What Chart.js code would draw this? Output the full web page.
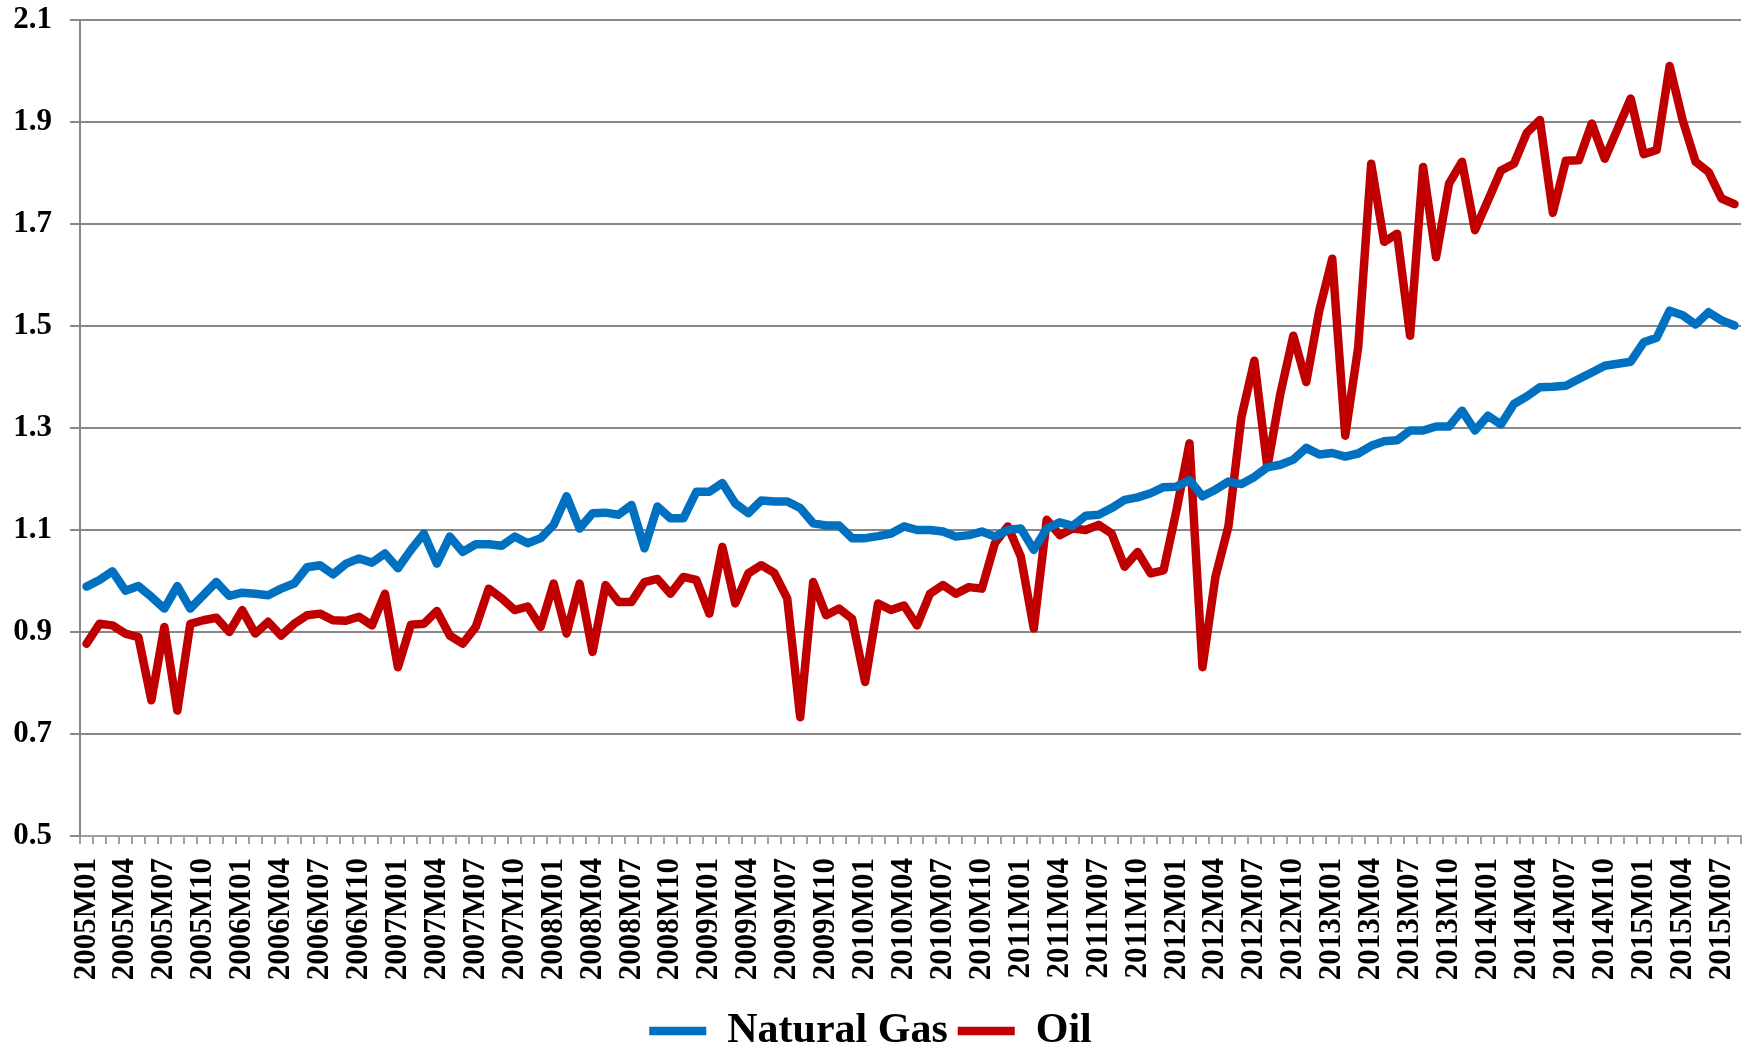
<!DOCTYPE html>
<html>
<head>
<meta charset="utf-8">
<script src="https://cdn.jsdelivr.net/npm/chart.js@4.4.0/dist/chart.umd.min.js"></script>
<style>
  html, body { margin: 0; padding: 0; background: #fff; }
  #wrap { width: 1752px; height: 1048px; }
</style>
</head>
<body>
<div id="wrap"><canvas id="myChart" width="1752" height="1048"></canvas></div>
<script>
// monthly categories 2005M01 .. 2015M08
const years = [2005, 2006, 2007, 2008, 2009, 2010, 2011, 2012, 2013, 2014, 2015];
const lastMonth = 8;
const labels = [];
years.forEach(function (y) {
    const n = (y === 2015) ? lastMonth : 12;
    for (let m = 1; m <= n; m++) {
        labels.push(y + 'M' + (m < 10 ? '0' + m : m));
    }
});

const gas = [
    0.989, 1.002, 1.019, 0.981, 0.990, 0.969, 0.946, 0.990, 0.946, 0.972, 0.998, 0.971,
    0.977, 0.975, 0.972, 0.985, 0.995, 1.027, 1.031, 1.013, 1.034, 1.044, 1.036, 1.054,
    1.025, 1.061, 1.093, 1.034, 1.087, 1.057, 1.072, 1.072, 1.069, 1.087, 1.074, 1.084,
    1.110, 1.166, 1.103, 1.133, 1.134, 1.130, 1.149, 1.064, 1.146, 1.123, 1.123, 1.175,
    1.175, 1.192, 1.152, 1.133, 1.158, 1.156, 1.156, 1.143, 1.113, 1.109, 1.109, 1.084,
    1.084, 1.088, 1.093, 1.107, 1.100, 1.100, 1.097, 1.087, 1.090, 1.097, 1.087, 1.100,
    1.103, 1.061, 1.103, 1.115, 1.108, 1.128, 1.130, 1.143, 1.159, 1.164, 1.172, 1.184,
    1.185, 1.198, 1.166, 1.179, 1.195, 1.190, 1.204, 1.223, 1.228, 1.238, 1.261, 1.248,
    1.251, 1.244, 1.250, 1.265, 1.274, 1.276, 1.295, 1.295, 1.303, 1.303, 1.334, 1.295,
    1.324, 1.307, 1.347, 1.362, 1.380, 1.381, 1.383, 1.396, 1.409, 1.422, 1.426, 1.430,
    1.468, 1.477, 1.530, 1.521, 1.503, 1.527, 1.511, 1.501
];

const oil = [
    0.877, 0.916, 0.913, 0.897, 0.890, 0.766, 0.910, 0.746, 0.916, 0.923, 0.928, 0.900,
    0.943, 0.897, 0.920, 0.893, 0.916, 0.933, 0.936, 0.923, 0.922, 0.930, 0.913, 0.975,
    0.831, 0.914, 0.916, 0.941, 0.893, 0.877, 0.910, 0.985, 0.966, 0.943, 0.950, 0.910,
    0.995, 0.897, 0.995, 0.861, 0.992, 0.959, 0.959, 0.998, 1.004, 0.975, 1.008, 1.002,
    0.936, 1.067, 0.956, 1.015, 1.031, 1.016, 0.966, 0.733, 0.998, 0.933, 0.946, 0.926,
    0.802, 0.956, 0.943, 0.952, 0.913, 0.975, 0.992, 0.975, 0.988, 0.985, 1.074, 1.107,
    1.048, 0.907, 1.120, 1.090, 1.103, 1.100, 1.110, 1.093, 1.028, 1.057, 1.015, 1.021,
    1.139, 1.270, 0.831, 1.008, 1.107, 1.321, 1.432, 1.223, 1.367, 1.481, 1.390, 1.530,
    1.632, 1.285, 1.458, 1.818, 1.665, 1.681, 1.481, 1.812, 1.635, 1.779, 1.822, 1.688,
    1.746, 1.805, 1.818, 1.879, 1.904, 1.722, 1.824, 1.825, 1.897, 1.828, 1.887, 1.946,
    1.837, 1.845, 2.010, 1.904, 1.822, 1.802, 1.750, 1.739
];

const yMin = 0.5;
const yMax = 2.1;
const yStep = 0.2;

const serif = '"Liberation Serif", "Times New Roman", serif';

var ctx = document.getElementById('myChart').getContext('2d');

var myChart = new Chart(ctx, {
    type: 'line',
    data: {
        labels: labels,
        datasets: [{
            label: 'Natural Gas',
            data: gas,
            borderColor: '#0070C0',
            backgroundColor: '#0070C0',
            borderWidth: 8.5,
            borderCapStyle: 'round',
            borderJoinStyle: 'round',
            pointRadius: 0,
            tension: 0
        }, {
            label: 'Oil',
            data: oil,
            borderColor: '#C00000',
            backgroundColor: '#C00000',
            borderWidth: 8.5,
            borderCapStyle: 'round',
            borderJoinStyle: 'round',
            pointRadius: 0,
            tension: 0
        }]
    },
    options: {
        responsive: false,
        animation: false,
        layout: {
            padding: { top: 20, right: 11, bottom: -14, left: 0 }
        },
        plugins: {
            tooltip: { enabled: false },
            legend: {
                position: 'bottom',
                labels: {
                    usePointStyle: true,
                    pointStyle: 'line',
                    pointStyleWidth: 57,
                    padding: 10,
                    color: '#000',
                    font: { family: serif, size: 42, weight: 'bold' }
                }
            }
        },
        scales: {
            x: {
                offset: true,
                afterFit: function (scale) {
                    scale.height = 164;
                    scale.paddingLeft = 0;
                    scale.paddingRight = 0;
                },
                grid: {
                    offset: true,
                    drawOnChartArea: false,
                    drawTicks: true,
                    tickLength: 8,
                    color: '#a0a0a0',
                    lineWidth: 2
                },
                border: { display: true, color: '#a0a0a0', width: 2 },
                ticks: {
                    autoSkip: false,
                    maxRotation: 90,
                    minRotation: 90,
                    padding: 14,
                    color: '#000',
                    font: { family: serif, size: 31, weight: 'bold' },
                    callback: function (val, i) {
                        return i % 3 === 0 ? labels[i] : '';
                    }
                }
            },
            y: {
                min: yMin,
                max: yMax,
                afterFit: function (scale) {
                    scale.width = 80;
                    scale.paddingTop = 0;
                    scale.paddingBottom = 0;
                },
                grid: {
                    color: '#888888',
                    lineWidth: 2,
                    tickLength: 10
                },
                border: { display: true, color: '#888888', width: 2 },
                ticks: {
                    stepSize: yStep,
                    padding: 18,
                    color: '#000',
                    font: { family: serif, size: 31, weight: 'bold' },
                    callback: function (v) { return v.toFixed(1); }
                }
            }
        }
    }
});
</script>
</body>
</html>
